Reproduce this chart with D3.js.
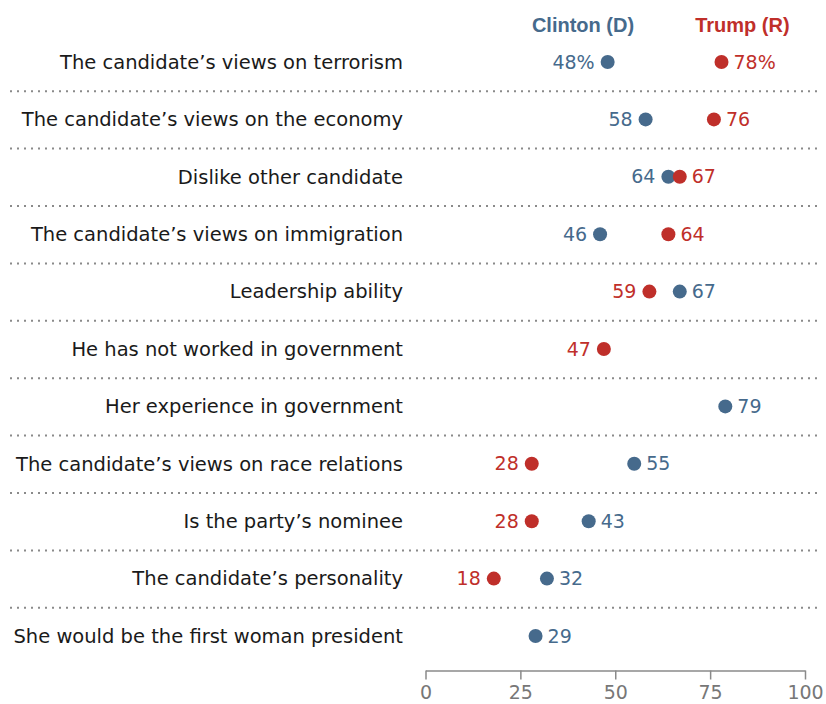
<!DOCTYPE html>
<html>
<head>
<meta charset="utf-8">
<script src="https://cdn.jsdelivr.net/npm/d3@7/dist/d3.min.js"></script>
<style>
  html, body { margin: 0; padding: 0; background: #fff; }
  svg { display: block; font-family: "DejaVu Sans", sans-serif; }
</style>
</head>
<body>
<script>
const categories = [
  "The candidate\u2019s views on terrorism",
  "The candidate\u2019s views on the economy",
  "Dislike other candidate",
  "The candidate\u2019s views on immigration",
  "Leadership ability",
  "He has not worked in government",
  "Her experience in government",
  "The candidate\u2019s views on race relations",
  "Is the party\u2019s nominee",
  "The candidate\u2019s personality",
  "She would be the first woman president"
];
const clinton = [48, 58, 64, 46, 67, null, 79, 55, 43, 32, 29];
const trump   = [78, 76, 67, 64, 59, 47, null, 28, 28, 18, null];
const seriesNames = ["Clinton (D)", "Trump (R)"];
const xTicks = [0, 25, 50, 75, 100];

const W = 826, H = 704;
const blue = "#466a8c", red = "#bf2f2a";
const bodyFont = "'DejaVu Sans', sans-serif";
const headFont = "'Liberation Sans', Arial, sans-serif";

const svg = d3.select("body").append("svg").attr("width", W).attr("height", H);

const x = d3.scaleLinear().domain([0, 100]).range([425.5, 805]);
const y = d3.scalePoint().domain(d3.range(categories.length)).range([62, 636]);
const step = y.step();

// dotted separators
svg.append("g").selectAll("line")
  .data(d3.range(categories.length - 1))
  .join("line")
  .attr("x1", 10).attr("x2", 820)
  .attr("y1", i => y(i) + step / 2 + 0.5)
  .attr("y2", i => y(i) + step / 2 + 0.5)
  .attr("stroke", "#8a8a8a")
  .attr("stroke-width", 2)
  .attr("stroke-dasharray", "2,5");

// category labels
svg.append("g").selectAll("text")
  .data(categories)
  .join("text")
  .attr("x", 403)
  .attr("y", (d, i) => y(i))
  .attr("dy", "0.35em")
  .attr("text-anchor", "end")
  .style("font-family", bodyFont)
  .style("font-size", "19.5px")
  .attr("fill", "#1a1a1a")
  .text(d => d);

// header
[[41.5, blue, seriesNames[0]], [83.5, red, seriesNames[1]]].forEach(([v, c, t]) => {
  svg.append("text")
    .attr("x", x(v)).attr("y", 32)
    .attr("text-anchor", "middle")
    .style("font-family", headFont)
    .style("font-size", "20px").style("font-weight", "bold")
    .attr("fill", c).text(t);
});

// points
const pts = [];
categories.forEach((c, i) => {
  const cv = clinton[i], tv = trump[i];
  if (cv != null) pts.push({ i, v: cv, color: blue, right: (tv == null || cv > tv) });
  if (tv != null) pts.push({ i, v: tv, color: red, right: (cv != null && tv > cv) });
});

const g = svg.append("g");
g.selectAll("circle")
  .data(pts)
  .join("circle")
  .attr("cx", d => x(d.v))
  .attr("cy", d => y(d.i))
  .attr("r", 7)
  .attr("fill", d => d.color);

g.selectAll("text")
  .data(pts)
  .join("text")
  .attr("x", d => x(d.v) + (d.right ? 12 : -13))
  .attr("y", d => y(d.i))
  .attr("dy", "0.35em")
  .attr("text-anchor", d => d.right ? "start" : "end")
  .style("font-family", bodyFont)
  .style("font-size", "19px")
  .attr("fill", d => d.color)
  .text(d => d.v + (d.i === 0 ? "%" : ""));

// axis
const axis = d3.axisBottom(x).tickValues(xTicks).tickSize(9).tickPadding(6).tickSizeOuter(0);
const ag = svg.append("g").attr("transform", "translate(0,670.5)").call(axis);
ag.select(".domain").attr("stroke", "#8a8a8a").attr("stroke-width", 1.5);
ag.selectAll(".tick line").attr("stroke", "#8a8a8a").attr("stroke-width", 1.5);
ag.selectAll(".tick text")
  .style("font-size", "19px")
  .style("font-family", bodyFont)
  .attr("fill", "#777");
</script>
</body>
</html>
